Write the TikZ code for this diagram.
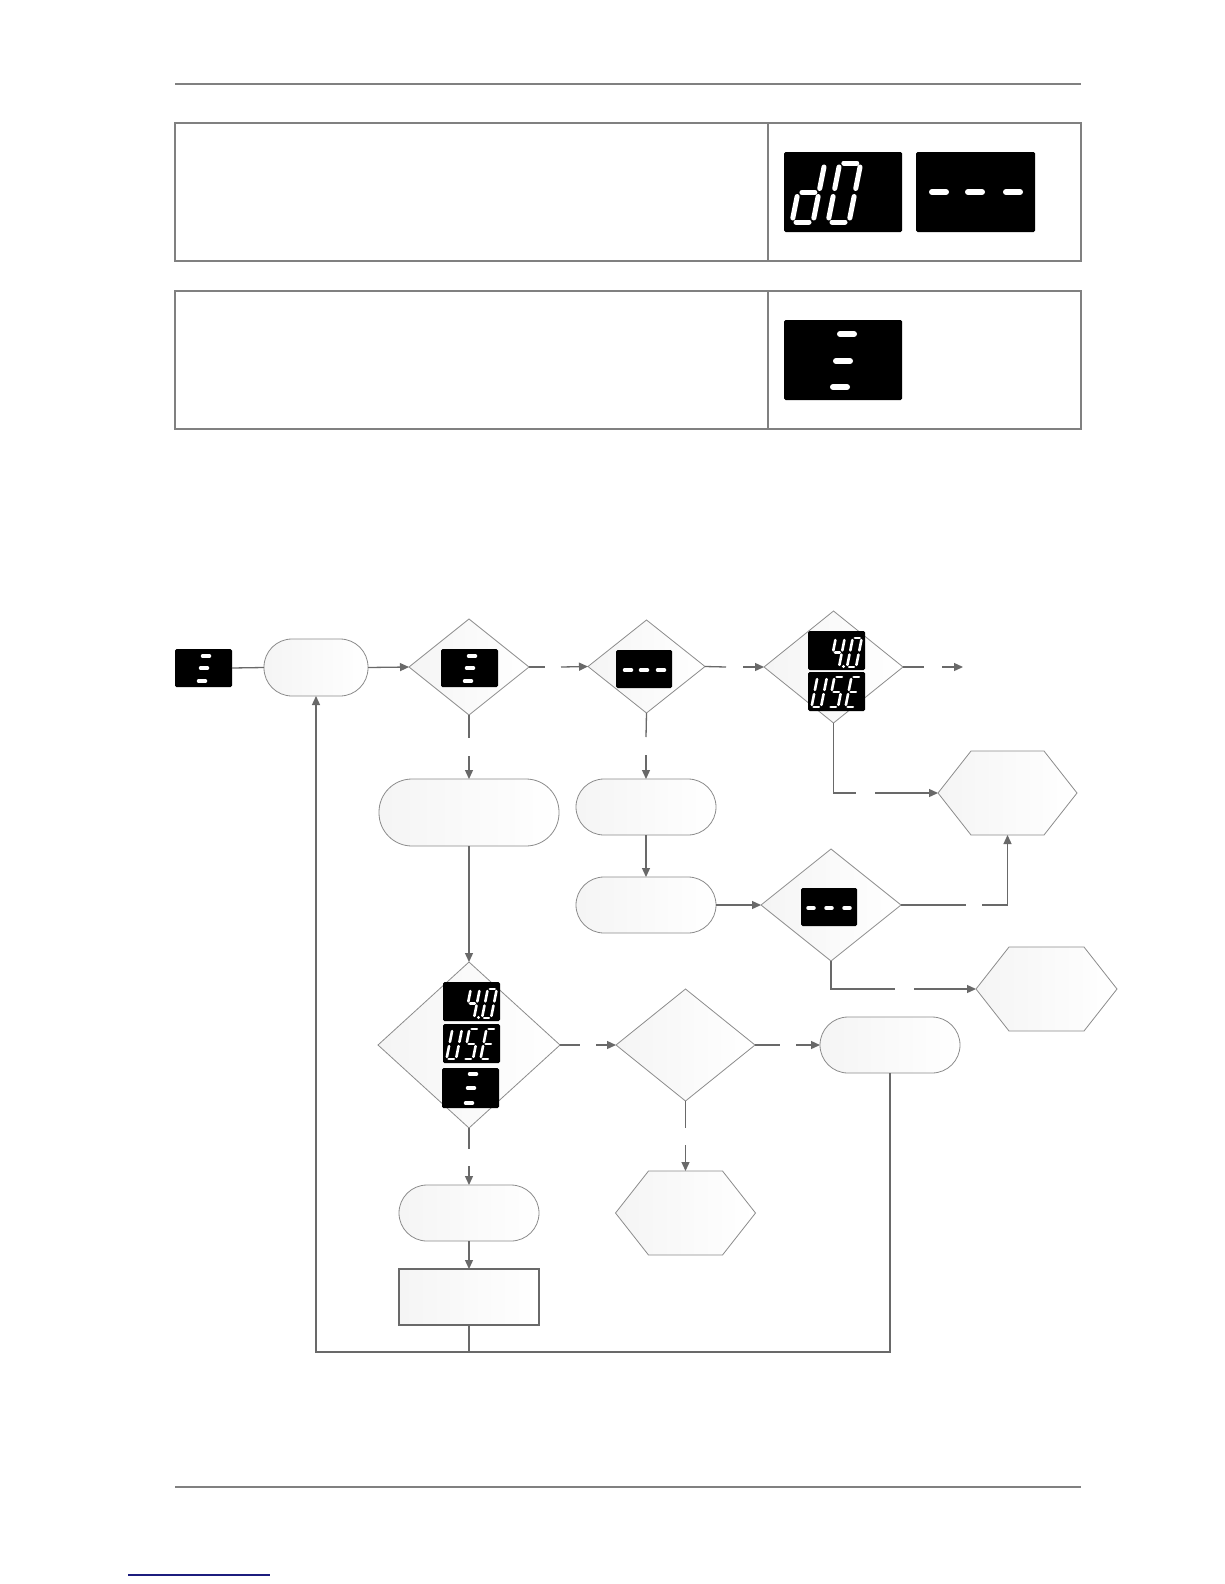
\documentclass[tikz,border=0pt]{standalone}
\usetikzlibrary{shapes.geometric,arrows.meta,calc}
\definecolor{lc}{HTML}{696969}
\definecolor{sc}{HTML}{8C8C8C}
\definecolor{tc}{HTML}{808080}
\definecolor{navy}{HTML}{1C1C7E}
\tikzset{
  conn/.style={draw=lc,line width=1.3pt,-{Triangle[length=9pt,width=8pt]}},
  plain/.style={draw=lc,line width=1.3pt},
  shp/.style={draw=sc,line width=0.8pt,left color=black!4,right color=white,inner sep=0pt,outer sep=0pt},
  dec/.style={shp,shape=diamond},
  stad/.style={shp,rectangle,rounded corners=#1},
  hexbox/.style={rectangle,inner sep=0pt,outer sep=0pt},
  disp/.style={fill=black,draw=none,rounded corners=1.5pt,inner sep=0pt,outer sep=0pt},
  cell/.style={draw=tc,line width=1.3pt,inner sep=0pt,outer sep=0pt,anchor=north west},
  dsh/.style={white,line width=#1,line cap=round}
}
% seven segment helpers
\def\sgpa{\draw[sgl] (\sgo,\sgh) -- (\sgw-\sgo,\sgh);}
\def\sgpb{\draw[sgl] (\sgw,\sgh-\sgo) -- (\sgw,\sgh/2+\sgo);}
\def\sgpc{\draw[sgl] (\sgw,\sgh/2-\sgo) -- (\sgw,\sgo);}
\def\sgpd{\draw[sgl] (\sgo,0) -- (\sgw-\sgo,0);}
\def\sgpe{\draw[sgl] (0,\sgh/2-\sgo) -- (0,\sgo);}
\def\sgpf{\draw[sgl] (0,\sgh-\sgo) -- (0,\sgh/2+\sgo);}
\def\sgpg{\draw[sgl] (\sgo,\sgh/2) -- (\sgw-\sgo,\sgh/2);}
\newcommand\sevseg[6]{%
  \begin{scope}[shift={(#1,#2)},x=1pt,y=1pt,xslant=0.2]
    \def\sgw{#3}\def\sgh{#4}\def\sgo{#5*0.8}%
    \tikzset{sgl/.style={white,line width=#5pt,line cap=round}}%
    \foreach \sg in {#6}{\csname sgp\sg\endcsname}%
  \end{scope}}
\newcommand\dispfouro[3]{%
  \node[disp,minimum width=57pt,minimum height=39pt,anchor=north west] (#1) at (#2,#3) {};
  \sevseg{#2+22}{#3+36}{9}{29}{2.6}{b,c,f,g}
  \fill[white] (#2+35.5,#3+35.5) circle (1.6pt);
  \sevseg{#2+39}{#3+36}{9}{29}{2.6}{a,b,c,d,e,f}}
\newcommand\dispuse[3]{%
  \node[disp,minimum width=57pt,minimum height=39pt,anchor=north west] (#1) at (#2,#3) {};
  \sevseg{#2+3.5}{#3+35}{9.5}{30}{2.6}{b,c,d,e,f}
  \sevseg{#2+20.5}{#3+35}{9.5}{30}{2.6}{a,f,g,c,d}
  \sevseg{#2+37.5}{#3+35}{9.5}{30}{2.6}{a,f,g,e,d}}
\newcommand\hexdraw[1]{%
  \draw[shp] (#1.west) -- ($(#1.north west)+(33,0)$) -- ($(#1.north east)+(-33,0)$)
    -- (#1.east) -- ($(#1.south east)+(-33,0)$) -- ($(#1.south west)+(33,0)$) -- cycle;}
\begin{document}
\begin{tikzpicture}[x=1pt,y=-1pt]
\fill[white] (0,0) rectangle (1224,1584);
\useasboundingbox (0,0) rectangle (1224,1584);

% page rules
\draw[tc,line width=1.2pt] (175,84) -- (1081,84);
\draw[tc,line width=1.2pt] (175,1487) -- (1081,1487);
\draw[navy,line width=1.6pt] (128,1575) -- (270,1575);

% tables
\node[cell,minimum width=593pt,minimum height=138pt] (t1a) at (175,123) {};
\node[cell,minimum width=313pt,minimum height=138pt] (t1b) at (768,123) {};
\node[cell,minimum width=593pt,minimum height=138pt] (t2a) at (175,291) {};
\node[cell,minimum width=313pt,minimum height=138pt] (t2b) at (768,291) {};

% table displays
\node[disp,minimum width=118pt,minimum height=80pt,anchor=north west] (dA) at (784,152) {};
\sevseg{792}{222}{21}{59}{5}{b,c,d,e,g}
\sevseg{828}{222}{21}{59}{5}{a,b,c,d,e,f}
\node[disp,minimum width=119pt,minimum height=80pt,anchor=north west] (dB) at (916,152) {};
\foreach \cx in {939,975,1013} \draw[dsh=6pt] (\cx-7,192) -- (\cx+7,192);
\node[disp,minimum width=118pt,minimum height=80pt,anchor=north west] (dC) at (784,320) {};
\draw[dsh=6pt] (840,334) -- (854,334);
\draw[dsh=6pt] (836,361) -- (850,361);
\draw[dsh=6pt] (833,387) -- (847,387);

% flowchart shapes
\node[stad=28pt,minimum width=104pt,minimum height=57pt] (term) at (316,667.5) {};
\node[dec,minimum width=120pt,minimum height=96pt] (dia1) at (469,667) {};
\node[dec,minimum width=117pt,minimum height=93pt] (dia2) at (646.5,666.5) {};
\node[dec,minimum width=139pt,minimum height=112pt] (dia3) at (833.5,667) {};
\node[stad=33pt,minimum width=180pt,minimum height=67pt] (stA) at (469,812.5) {};
\node[stad=28pt,minimum width=140pt,minimum height=56pt] (stB) at (646,807) {};
\node[stad=28pt,minimum width=140pt,minimum height=56pt] (stC) at (646,905) {};
\node[dec,minimum width=140pt,minimum height=112pt] (dia5) at (831,905) {};
\node[hexbox,minimum width=139pt,minimum height=84pt] (hA) at (1007.5,793) {};
\hexdraw{hA}
\node[hexbox,minimum width=141pt,minimum height=84pt] (hB) at (1046.5,989) {};
\hexdraw{hB}
\node[dec,minimum width=182pt,minimum height=166pt] (dia4) at (469,1045) {};
\node[dec,minimum width=139pt,minimum height=112pt] (dia6) at (685.5,1045) {};
\node[stad=28pt,minimum width=140pt,minimum height=56pt] (stE) at (890,1045) {};
\node[hexbox,minimum width=140pt,minimum height=84pt] (hC) at (685.5,1213) {};
\hexdraw{hC}
\node[stad=28pt,minimum width=140pt,minimum height=56pt] (stD) at (469,1213) {};
\node[shp,draw=lc,line width=1.1pt,rectangle,minimum width=140pt,minimum height=56pt] (rect) at (469,1297) {};

% flowchart displays
\node[disp,minimum width=57pt,minimum height=38pt,anchor=north west] (dD) at (175,649) {};
\draw[dsh=3.5pt] (202.5,656) -- (209.5,656);
\draw[dsh=3.5pt] (200.5,668) -- (207.5,668);
\draw[dsh=3.5pt] (198.5,681) -- (205.5,681);
\node[disp,minimum width=57pt,minimum height=38pt,anchor=north west] (dE) at (441,649) {};
\draw[dsh=3.5pt] (468.5,656) -- (475.5,656);
\draw[dsh=3.5pt] (466.5,668) -- (473.5,668);
\draw[dsh=3.5pt] (464.5,681) -- (471.5,681);
\node[disp,minimum width=56pt,minimum height=38pt,anchor=north west] (dF) at (616,650) {};
\foreach \cx in {628,644,661} \draw[dsh=3.5pt] (\cx-3.5,670) -- (\cx+3.5,670);
\dispfouro{dG}{808}{631}
\dispuse{dH}{808}{672}
\node[disp,minimum width=56pt,minimum height=38pt,anchor=north west] (dI) at (801,888) {};
\foreach \cx in {811,829,847} \draw[dsh=3.5pt] (\cx-3,908) -- (\cx+3,908);
\dispfouro{dJ}{443}{982}
\dispuse{dK}{443}{1024}
\node[disp,minimum width=57pt,minimum height=40pt,anchor=north west] (dL) at (442,1068) {};
\draw[dsh=3.5pt] (469.5,1074) -- (476.5,1074);
\draw[dsh=3.5pt] (467.5,1088) -- (474.5,1088);
\draw[dsh=3.5pt] (465.5,1103) -- (472.5,1103);

% connector coordinates (gaps where labels sit)
\coordinate (c1a) at (545,667);  \coordinate (c1b) at (561,667);
\coordinate (c2a) at (726,667);  \coordinate (c2b) at (743,667);
\coordinate (c3a) at (924,667);  \coordinate (c3b) at (942,667); \coordinate (c3e) at (963,667);
\coordinate (c4a) at (469,738);  \coordinate (c4b) at (469,756);
\coordinate (c5a) at (646,737);  \coordinate (c5b) at (646,755);
\coordinate (c6k) at (833.5,793); \coordinate (c6a) at (856,793); \coordinate (c6b) at (875,793);
\coordinate (c7a) at (966,905);  \coordinate (c7b) at (982,905); \coordinate (c7k) at (1007.5,905);
\coordinate (c8k) at (831,989);  \coordinate (c8a) at (895,989); \coordinate (c8b) at (914,989);
\coordinate (c9a) at (580,1045); \coordinate (c9b) at (596,1045);
\coordinate (c10a) at (780,1045); \coordinate (c10b) at (796,1045);
\coordinate (c11a) at (685.5,1128); \coordinate (c11b) at (685.5,1145);
\coordinate (c12a) at (469,1149); \coordinate (c12b) at (469,1166);
\coordinate (loopL) at (316,1352); \coordinate (loopM) at (469,1352); \coordinate (loopR) at (890,1352);

% connectors
\draw[plain] (dD.east) -- (term.west);
\draw[conn] (term.east) -- (dia1.west);
\draw[plain] (dia1.east) -- (c1a); \draw[conn] (c1b) -- (dia2.west);
\draw[plain] (dia2.east) -- (c2a); \draw[conn] (c2b) -- (dia3.west);
\draw[plain] (dia3.east) -- (c3a); \draw[conn] (c3b) -- (c3e);
\draw[plain] (dia1.south) -- (c4a); \draw[conn] (c4b) -- (stA.north);
\draw[plain] (dia2.south) -- (c5a); \draw[conn] (c5b) -- (stB.north);
\draw[conn] (stB.south) -- (stC.north);
\draw[conn] (stC.east) -- (dia5.west);
\draw[plain] (dia3.south) -- (c6k) -- (c6a); \draw[conn] (c6b) -- (hA.west);
\draw[plain] (dia5.east) -- (c7a); \draw[conn] (c7b) -- (c7k) -- (hA.south);
\draw[plain] (dia5.south) -- (c8k) -- (c8a); \draw[conn] (c8b) -- (hB.west);
\draw[conn] (stA.south) -- (dia4.north);
\draw[plain] (dia4.east) -- (c9a); \draw[conn] (c9b) -- (dia6.west);
\draw[plain] (dia6.east) -- (c10a); \draw[conn] (c10b) -- (stE.west);
\draw[plain] (dia6.south) -- (c11a); \draw[conn] (c11b) -- (hC.north);
\draw[plain] (dia4.south) -- (c12a); \draw[conn] (c12b) -- (stD.north);
\draw[conn] (stD.south) -- (rect.north);
\draw[plain] (rect.south) -- (loopM);
\draw[conn] (stE.south) -- (loopR) -- (loopL) -- (term.south);
\end{tikzpicture}
\end{document}
